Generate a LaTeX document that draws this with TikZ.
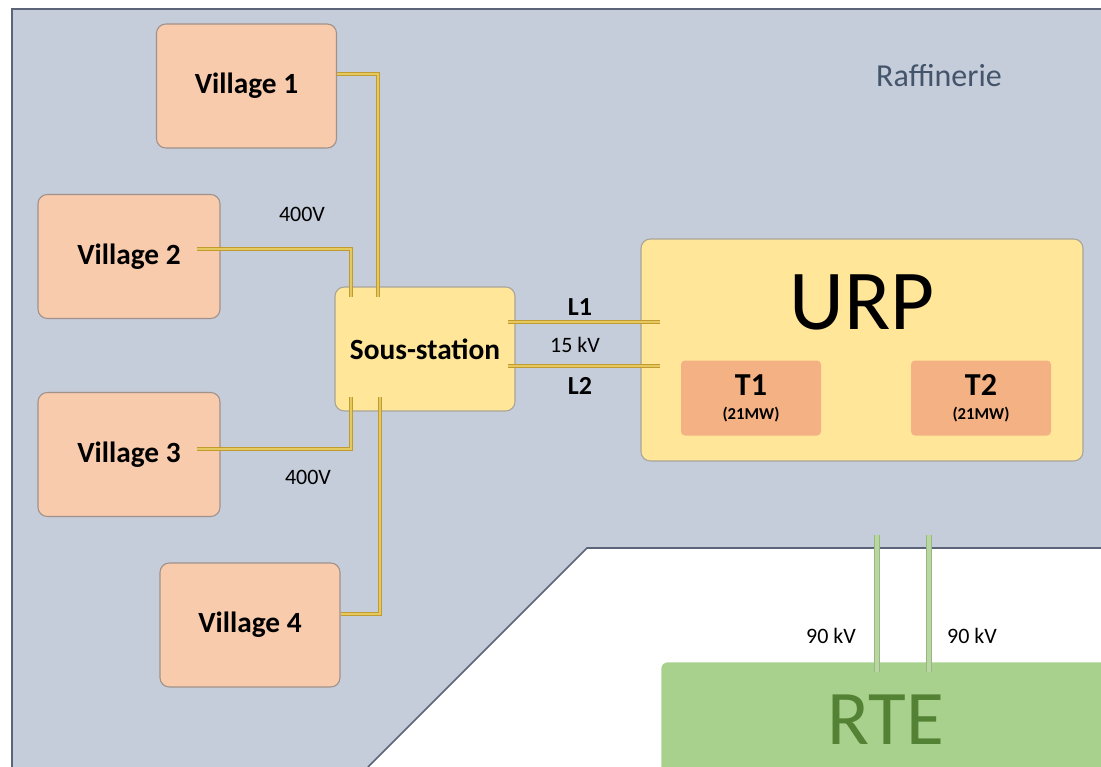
\documentclass[tikz,border=0pt]{standalone}
\usepackage{fontspec}
\setmainfont{Carlito}
\definecolor{bgray}{HTML}{C5CCDA}
\definecolor{bline}{HTML}{5B6478}
\definecolor{peach}{HTML}{F8CBAD}
\definecolor{peachline}{HTML}{A0918A}
\definecolor{ylw}{HTML}{FFE699}
\definecolor{ylwline}{HTML}{A8A598}
\definecolor{tbox}{HTML}{F4B183}
\definecolor{rtefill}{HTML}{A9D18E}
\definecolor{rtetext}{HTML}{548235}
\definecolor{raff}{HTML}{44546A}
\definecolor{gold}{HTML}{C29B2E}
\definecolor{goldin}{HTML}{E4C860}
\definecolor{grn}{HTML}{97B97E}
\definecolor{grnin}{HTML}{B9D7A2}
\tikzset{
  village/.style={draw=peachline, line width=0.8pt, fill=peach, rounded corners=7pt,
    minimum width=0.75pt*180, minimum height=0.75pt*124, font=\fontsize{22}{26}\selectfont\bfseries},
  ybox/.style={draw=ylwline, line width=0.8pt, fill=ylw, rounded corners=7pt},
  tb/.style={fill=tbox, rounded corners=3pt, minimum width=0.75pt*140, minimum height=0.75pt*75,
    align=center, font=\bfseries},
  bus/.style={draw=gold, line width=1pt, double=goldin, double distance=1.5pt},
  gbus/.style={draw=grn, line width=0.8pt, double=grnin, double distance=2.6pt},
  lbl/.style={font=\fontsize{16.5}{19}\selectfont, text=black},
}
\begin{document}
\begin{tikzpicture}[x=0.75pt,y=-0.75pt]
\useasboundingbox (0,0) rectangle (1101,767);
\clip (0,0) rectangle (1101,767);
\fill[white] (0,0) rectangle (1101,767);
% refinery area
\fill[bgray] (12,9) -- (1101,9) -- (1101,548) -- (587,548) -- (368,767) -- (12,767) -- cycle;
\draw[bline, line width=1.2pt] (12,767) -- (12,9) -- (1101,9);
\draw[bline, line width=1.2pt] (1101,548) -- (587,548) -- (368,767);
\node[text=raff, font=\fontsize{24}{28}\selectfont] (raff) at (939,76) {Raffinerie};
% villages
\node[village] (v1) at (246.5,86) {Village 1};
\node[village, minimum width=0.75pt*182] (v2) at (129,256.5) {Village 2};
\node[village, minimum width=0.75pt*182] (v3) at (129,454.5) {Village 3};
\node[village] (v4) at (250,625) {Village 4};
% substation
\node[ybox, minimum width=0.75pt*180, minimum height=0.75pt*124, font=\fontsize{22}{26}\selectfont\bfseries] (ss) at (425,349) {Sous-station};
% URP
\node[ybox, minimum width=0.75pt*442, minimum height=0.75pt*222] (urp) at (862,350) {};
\node[font=\fontsize{64}{70}\selectfont] (urpt) at (862,302) {URP};
\node[tb] (t1) at (751,398) {{\fontsize{24}{25}\selectfont T1}\\[6pt]{\fontsize{12.5}{14}\selectfont (21MW)}};
\node[tb] (t2) at (981,398) {{\fontsize{24}{25}\selectfont T2}\\[6pt]{\fontsize{12.5}{14}\selectfont (21MW)}};
% RTE
\node[fill=rtefill, rounded corners=5pt, minimum width=0.75pt*470, minimum height=0.75pt*130, anchor=north west] (rte) at (661,662) {};
\node[text=rtetext, font=\fontsize{58}{64}\selectfont] (rtet) at (886,720) {RTE};
% connections village - substation
\coordinate (c1) at (378,297);
\coordinate (c2) at (351,297);
\coordinate (c3) at (351,397);
\coordinate (c4) at (380,397);
\draw[bus] (v1.east |- 0,74) -| (c1);
\draw[bus] (197,249) -| (c2);
\draw[bus] (197,449) -| (c3);
\draw[bus] (v4.east |- 0,614) -| (c4);
\node[lbl] (l400a) at (302,214) {400V};
\node[lbl] (l400b) at (308,477) {400V};
% L1 / L2
\coordinate (l1a) at (508,322);
\coordinate (l1b) at (660,322);
\coordinate (l2a) at (508,366);
\coordinate (l2b) at (660,366);
\draw[bus] (l1a) -- (l1b);
\draw[bus] (l2a) -- (l2b);
\node[font=\fontsize{19.5}{22}\selectfont\bfseries] (L1) at (580,307) {L1};
\node[lbl] (kv15) at (575,345) {15 kV};
\node[font=\fontsize{19.5}{22}\selectfont\bfseries] (L2) at (580,386) {L2};
% 90 kV lines
\coordinate (g1a) at (877,535);
\coordinate (g1b) at (877,672);
\coordinate (g2a) at (929,535);
\coordinate (g2b) at (929,672);
\draw[gbus] (g1a) -- (g1b);
\draw[gbus] (g2a) -- (g2b);
\node[lbl] (kv90a) at (831,636) {90 kV};
\node[lbl] (kv90b) at (972,636) {90 kV};
\end{tikzpicture}
\end{document}
